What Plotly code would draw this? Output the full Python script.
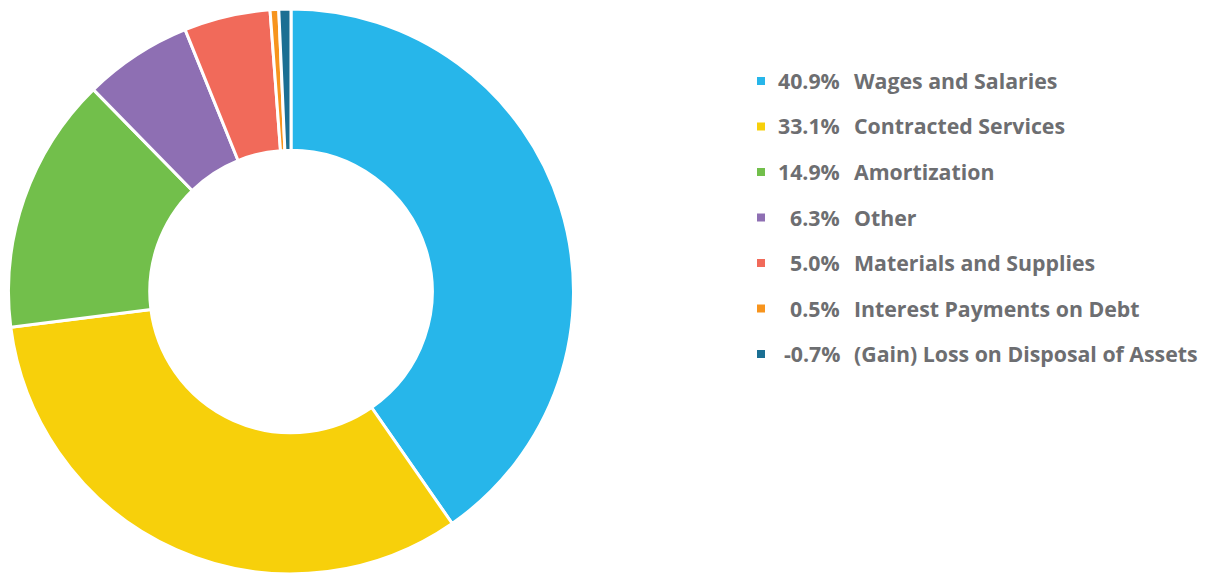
import plotly.graph_objects as go

categories = ["Wages and Salaries", "Contracted Services", "Amortization", "Other",
              "Materials and Supplies", "Interest Payments on Debt",
              "(Gain) Loss on Disposal of Assets"]
percent_labels = ["40.9%", "33.1%", "14.9%", "6.3%", "5.0%", "0.5%", "-0.7%"]
slice_values = [40.9, 33.1, 14.9, 6.3, 5.0, 0.5, 0.7]
colors = ["#27b6ea", "#f7d00b", "#72bf4b", "#8e6fb3", "#f16a5a", "#f7941d", "#1b6f93"]

W, H = 1209, 574

fig = go.Figure(go.Pie(
    labels=categories,
    values=slice_values,
    sort=False,
    direction="clockwise",
    rotation=0,
    hole=0.5,
    marker=dict(colors=colors, line=dict(color="white", width=3)),
    textinfo="none",
    showlegend=False,
    domain=dict(x=[8 / W, 574 / W], y=[0, 1 - 9 / H]),
))

font = dict(family="Open Sans", size=21.3, color="#6d6e71")
row0, step = 80.5, 45.5
for i, (p, c) in enumerate(zip(percent_labels, categories)):
    yc = row0 + i * step
    fig.add_shape(type="rect", xref="paper", yref="paper",
                  x0=757 / W, x1=765 / W, y0=1 - (yc + 4.5) / H, y1=1 - (yc - 3.5) / H,
                  fillcolor=colors[i], line=dict(width=0))
    fig.add_annotation(x=842 / W, y=1 - yc / H, xref="paper", yref="paper",
                       text="<b>" + p + "</b>", showarrow=False, xanchor="right",
                       yanchor="middle", font=font)
    fig.add_annotation(x=852 / W, y=1 - yc / H, xref="paper", yref="paper",
                       text="<b>" + c + "</b>", showarrow=False, xanchor="left",
                       yanchor="middle", font=font)

fig.update_layout(width=W, height=H, margin=dict(l=0, r=0, t=0, b=0),
                  paper_bgcolor="white", plot_bgcolor="white")
fig.write_html("out.html", config={"displayModeBar": False},
               post_script="document.body.style.margin='0';document.body.style.overflow='hidden';")
